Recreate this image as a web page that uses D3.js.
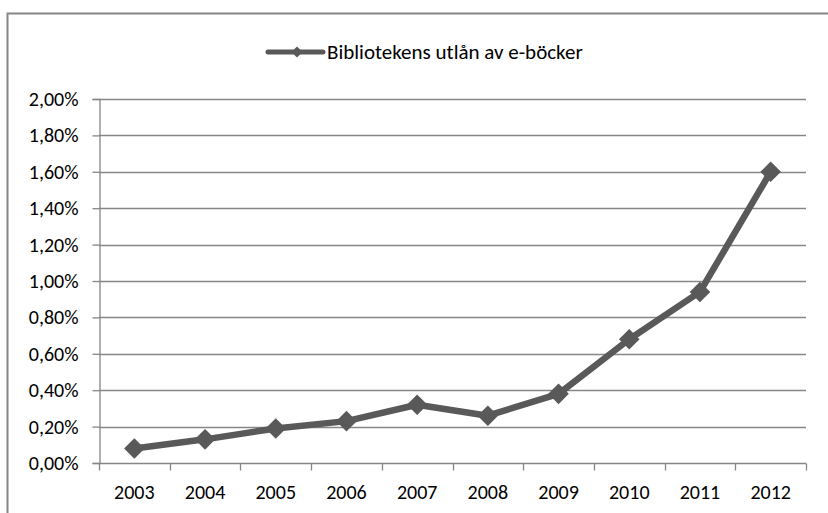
<!DOCTYPE html>
<html>
<head>
<meta charset="utf-8">
<script src="https://cdn.jsdelivr.net/npm/d3@7"></script>
<style>
  body { margin: 0; background: #fff; }
  svg text { font-family: Carlito, "Liberation Sans Narrow", "Open Sans", sans-serif; fill: #000; }
</style>
</head>
<body>
<svg width="828" height="513"></svg>
<script>
const years = ["2003", "2004", "2005", "2006", "2007", "2008", "2009", "2010", "2011", "2012"];
const loans = [0.08, 0.13, 0.19, 0.23, 0.32, 0.26, 0.38, 0.68, 0.94, 1.60];
const yTicks = [0, 0.2, 0.4, 0.6, 0.8, 1.0, 1.2, 1.4, 1.6, 1.8, 2.0];
const seriesName = "Bibliotekens utlån av e-böcker";

const svg = d3.select("svg");
const lineColor = "#595959";
const gridColor = "#868686";

// Chart frame (runs off the right/bottom edge like the screenshot)
svg.append("rect")
    .attr("x", 7.5).attr("y", 13.5)
    .attr("width", 830).attr("height", 520)
    .attr("fill", "none")
    .attr("stroke", gridColor)
    .attr("stroke-width", 2);

const plot = { left: 99, right: 806, top: 99, bottom: 463 };

const x = d3.scaleBand()
    .domain(years)
    .range([plot.left, plot.right]);

const y = d3.scaleLinear()
    .domain([0, 2])
    .range([plot.bottom, plot.top]);

// Gridlines
svg.append("g")
    .selectAll("line").data(yTicks.slice(1))
    .enter().append("line")
    .attr("x1", plot.left).attr("x2", plot.right)
    .attr("y1", d => Math.round(y(d)) + 0.5)
    .attr("y2", d => Math.round(y(d)) + 0.5)
    .attr("stroke", gridColor)
    .attr("stroke-width", 1.3);

// Y axis
const yAxis = svg.append("g")
    .attr("transform", `translate(${plot.left + 0.5},0)`)
    .call(d3.axisLeft(y).tickValues(yTicks).tickSize(7).tickPadding(14)
        .tickFormat(d => d.toFixed(2).replace(".", ",") + "%"));
yAxis.select(".domain").attr("stroke", gridColor).attr("stroke-width", 1.3);
yAxis.selectAll(".tick line").attr("stroke", gridColor).attr("stroke-width", 1.3);
yAxis.selectAll("text").attr("font-size", 20).attr("fill", "#000");

// X axis with ticks between categories
const xAxis = svg.append("g")
    .attr("transform", `translate(0,${plot.bottom + 0.5})`);
xAxis.append("line")
    .attr("x1", plot.left).attr("x2", plot.right)
    .attr("stroke", gridColor).attr("stroke-width", 1.3);
const bounds = years.map(d => x(d)).concat([plot.right]);
xAxis.selectAll("line.tk").data(bounds)
    .enter().append("line")
    .attr("class", "tk")
    .attr("x1", d => Math.round(d) + 0.5).attr("x2", d => Math.round(d) + 0.5)
    .attr("y1", 0).attr("y2", 7)
    .attr("stroke", gridColor).attr("stroke-width", 1.3);
xAxis.selectAll("text").data(years)
    .enter().append("text")
    .attr("x", d => x(d) + x.bandwidth() / 2)
    .attr("y", 35)
    .attr("text-anchor", "middle")
    .attr("font-size", 20)
    .text(d => d);

// Series line
const line = d3.line()
    .x((d, i) => x(years[i]) + x.bandwidth() / 2)
    .y(d => y(d));

svg.append("path")
    .datum(loans)
    .attr("d", line)
    .attr("fill", "none")
    .attr("stroke", lineColor)
    .attr("stroke-width", 6.5)
    .attr("stroke-linejoin", "round");

const diamond = d3.symbol().type(d3.symbolDiamond2).size(270);
svg.append("g")
    .selectAll("path").data(loans)
    .enter().append("path")
    .attr("transform", (d, i) => `translate(${x(years[i]) + x.bandwidth() / 2},${y(d)})`)
    .attr("d", diamond)
    .attr("fill", lineColor);

// Legend
const legend = svg.append("g").attr("transform", "translate(268,52)");
legend.append("line")
    .attr("x1", 0).attr("x2", 55)
    .attr("stroke", lineColor).attr("stroke-width", 5)
    .attr("stroke-linecap", "round");
legend.append("path")
    .attr("transform", "translate(29,0)")
    .attr("d", d3.symbol().type(d3.symbolDiamond2).size(80))
    .attr("fill", lineColor);
legend.append("text")
    .attr("x", 59).attr("y", 7)
    .attr("font-size", 21)
    .text(seriesName);
</script>
</body>
</html>
